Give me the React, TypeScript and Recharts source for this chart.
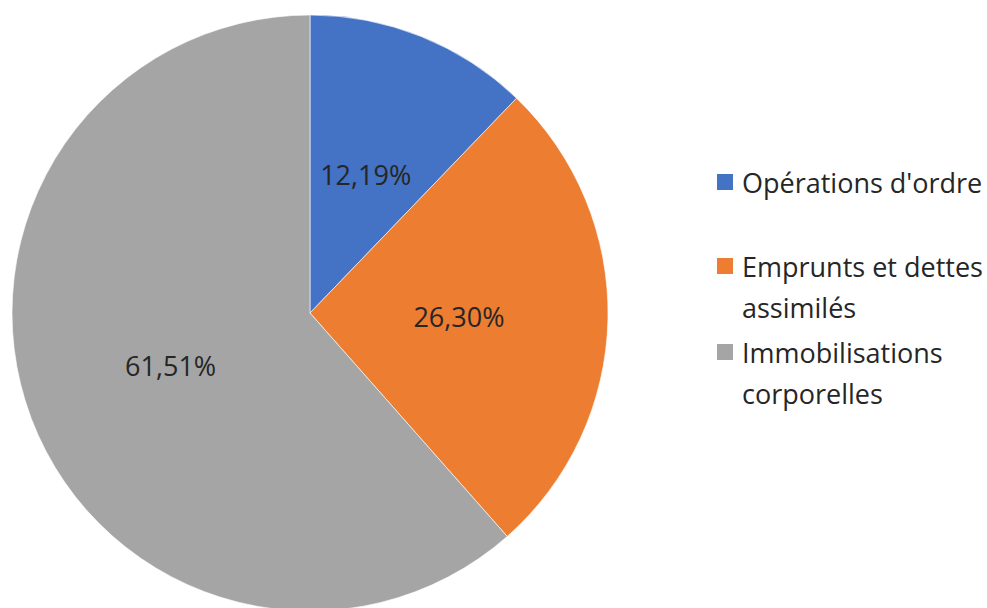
import React from "react";
import { PieChart, Pie, Cell, Legend } from "recharts";

const categories = ["Opérations d'ordre", "Emprunts et dettes assimilés", "Immobilisations corporelles"];
const values = [12.19, 26.3, 61.51];
const colors = ["#4472C4", "#ED7D31", "#A5A5A5"];
const valueLabels = ["12,19%", "26,30%", "61,51%"];

const data = categories.map((name, i) => ({ name, value: values[i], label: valueLabels[i] }));

const FONT = "'Open Sans', 'Noto Sans', sans-serif";
const RAD = Math.PI / 180;

const renderLabel = (props: any) => {
  const { cx, cy, midAngle, outerRadius, index } = props;
  const r = outerRadius * 0.5;
  const x = cx + r * Math.cos(-midAngle * RAD);
  const y = cy + r * Math.sin(-midAngle * RAD);
  return (
    <text
      x={x}
      y={y}
      textAnchor="middle"
      dominantBaseline="central"
      fill="#262626"
      style={{ fontFamily: FONT, fontSize: 27 }}
    >
      {valueLabels[index]}
    </text>
  );
};

const itemGaps = [43, 4, 0];

const renderLegend = () => (
  <div style={{ fontFamily: FONT, fontSize: 27, lineHeight: "41px", color: "#262626" }}>
    {data.map((d, i) => (
      <div key={d.name} style={{ display: "flex", alignItems: "flex-start", marginBottom: itemGaps[i] }}>
        <div
          style={{
            width: 16,
            height: 16,
            background: colors[i],
            marginTop: 12,
            marginRight: 9,
            flexShrink: 0,
          }}
        />
        <div style={{ width: 252 }}>{d.name}</div>
      </div>
    ))}
  </div>
);

export default function App() {
  return (
    <div style={{ position: "absolute", left: 0, top: 0, width: 987, height: 608, background: "#fff" }}>
      <PieChart width={987} height={608} margin={{ top: 0, right: 0, bottom: 0, left: 0 }}>
        <Pie
          data={data}
          dataKey="value"
          nameKey="name"
          cx={310}
          cy={313}
          outerRadius={298}
          startAngle={90}
          endAngle={-270}
          stroke="#ffffff"
          strokeWidth={0.6}
          label={renderLabel}
          labelLine={false}
          isAnimationActive={false}
        >
          {data.map((d, i) => (
            <Cell key={d.name} fill={colors[i]} />
          ))}
        </Pie>
        <Legend
          content={renderLegend}
          wrapperStyle={{ position: "absolute", left: 717, top: 162, width: 270 }}
        />
      </PieChart>
    </div>
  );
}
